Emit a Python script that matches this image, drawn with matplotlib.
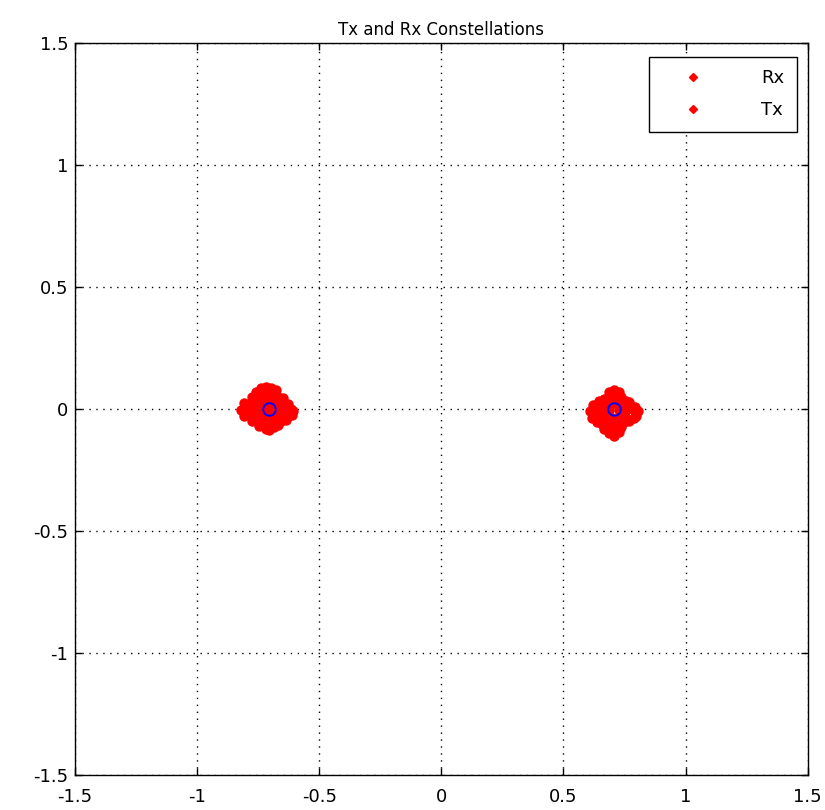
import numpy as np
import matplotlib
matplotlib.use('Agg')
import matplotlib.pyplot as plt
from matplotlib.lines import Line2D

# ideal BPSK-like symbols (Tx)
tx_i = [-0.7071, 0.7071]
tx_q = [0.0, 0.0]

# received points, offsets from each symbol
left_dx = [-0.03, -0.01, 0.01, 0.03, -0.05, -0.02,
           -0.07, -0.05, -0.02, 0.01, 0.04, 0.06,
           -0.10, -0.07, -0.04, -0.01, 0.02, 0.05, 0.08,
           -0.115, -0.09, -0.06, -0.03, 0.0, 0.03, 0.06, 0.09, 0.10,
           -0.10, -0.07, -0.04, -0.01, 0.02, 0.05, 0.08, 0.095,
           -0.07, -0.04, -0.01, 0.02, 0.05, 0.07,
           -0.04, -0.01, 0.02, 0.04, 0.0]
left_dy = [0.085, 0.09, 0.085, 0.08, 0.07, 0.075,
           0.05, 0.055, 0.055, 0.055, 0.05, 0.045,
           0.025, 0.03, 0.03, 0.03, 0.03, 0.03, 0.02,
           -0.005, 0.0, 0.0, 0.0, 0.0, 0.0, 0.0, 0.0, -0.01,
           -0.03, -0.03, -0.03, -0.03, -0.03, -0.03, -0.03, -0.025,
           -0.05, -0.055, -0.055, -0.055, -0.05, -0.045,
           -0.07, -0.08, -0.075, -0.065, -0.085]

right_dx = [-0.02, 0.0, 0.02, -0.01, 0.03,
            -0.06, -0.04, -0.01, 0.02, 0.05, 0.06,
            -0.085, -0.06, -0.03, 0.0, 0.03, 0.06, 0.085,
            -0.10, -0.08, -0.05, -0.02, 0.02, 0.05, 0.08, 0.10,
            -0.09, -0.07, -0.04, -0.01, 0.02, 0.05, 0.08, 0.09,
            -0.07, -0.05, -0.02, 0.01, 0.04, 0.06,
            -0.04, -0.02, 0.01, 0.03,
            -0.02, 0.0, 0.02]
right_dy = [0.07, 0.08, 0.07, 0.055, 0.05,
            0.035, 0.04, 0.045, 0.045, 0.035, 0.03,
            0.015, 0.02, 0.02, 0.025, 0.02, 0.02, 0.01,
            -0.01, -0.005, -0.005, -0.005, -0.005, -0.005, -0.005, -0.01,
            -0.035, -0.035, -0.035, -0.035, -0.035, -0.035, -0.035, -0.03,
            -0.055, -0.06, -0.06, -0.06, -0.055, -0.05,
            -0.08, -0.085, -0.085, -0.075,
            -0.10, -0.11, -0.095]

rx_i = np.concatenate([tx_i[0] + np.array(left_dx), tx_i[1] + np.array(right_dx)])
rx_q = np.concatenate([tx_q[0] + np.array(left_dy), tx_q[1] + np.array(right_dy)])

plt.rcParams['font.family'] = 'DejaVu Sans'

fig = plt.figure(figsize=(8.25, 8.10), dpi=100)
ax = fig.add_axes([0.091, 0.043, 0.888, 0.904])

ax.plot(rx_i, rx_q, 'o', color='red', markersize=7.5, markeredgewidth=0)
ax.plot(tx_i, tx_q, 'o', color='blue', markersize=9, markerfacecolor='none',
        markeredgewidth=1.4)

ax.set_xlim(-1.5, 1.5)
ax.set_ylim(-1.5, 1.5)
ticks = [-1.5, -1, -0.5, 0, 0.5, 1, 1.5]
tick_labels = ['-1.5', '-1', '-0.5', '0', '0.5', '1', '1.5']
ax.set_xticks(ticks)
ax.set_xticklabels(tick_labels)
ax.set_yticks(ticks)
ax.set_yticklabels(tick_labels)
ax.tick_params(direction='in', length=5, width=1, labelsize=13,
               top=True, right=True)
ax.tick_params(axis='x', pad=9)
ax.tick_params(axis='y', pad=5)
ax.grid(True, color='black', linestyle=(0, (1, 4)), linewidth=1)
for s in ax.spines.values():
    s.set_linewidth(1)

ax.set_title('Tx and Rx Constellations', fontsize=12, pad=6)

handles = [Line2D([], [], color='red', marker='D', markersize=4, linestyle='none'),
           Line2D([], [], color='red', marker='D', markersize=4, linestyle='none')]
leg = ax.legend(handles, ['Rx', 'Tx'], loc='upper right', bbox_to_anchor=(0.985, 0.981),
                borderaxespad=0, fontsize=13, frameon=True, fancybox=False,
                edgecolor='black', framealpha=1, markerfirst=True,
                handletextpad=2.0, borderpad=0.7, labelspacing=0.75,
                handlelength=3.5)
leg.get_frame().set_linewidth(1)

plt.savefig('out.png', dpi=100)
